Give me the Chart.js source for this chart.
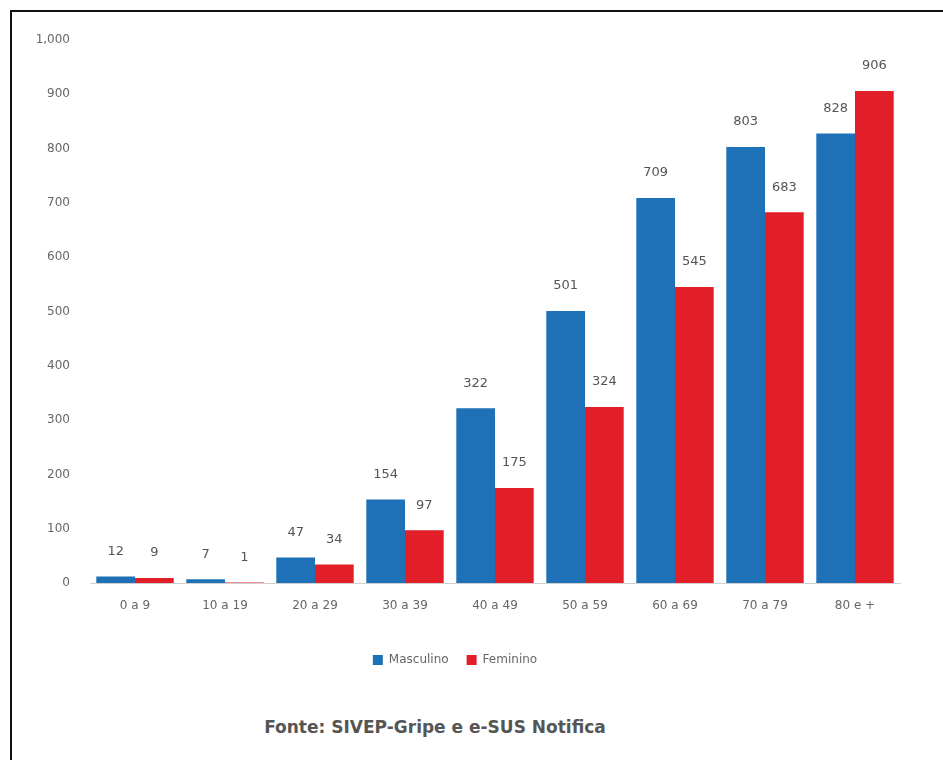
<!DOCTYPE html>
<html>
<head>
<meta charset="utf-8">
<script src="https://cdn.jsdelivr.net/npm/chart.js@4/dist/chart.umd.min.js"></script>
<style>
  body { margin: 0; background: #fff; }
  #frame { position: absolute; left: 10px; top: 10px; width: 1000px; height: 800px;
           border-left: 2px solid #111; border-top: 2px solid #111; }
  #wrap { position: absolute; left: 0; top: 0; width: 943px; height: 700px; }
  #fonte { position: absolute; left: 0; width: 870px; top: 717px; text-align: center;
           font-family: "DejaVu Sans", sans-serif; font-weight: bold; font-size: 17px; color: #555; }
</style>
</head>
<body>
<div id="frame"></div>
<div id="wrap"><canvas id="chart"></canvas></div>
<div id="fonte">Fonte: SIVEP-Gripe e e-SUS Notifica</div>
<script>
const faixas = ['0 a 9', '10 a 19', '20 a 29', '30 a 39', '40 a 49', '50 a 59', '60 a 69', '70 a 79', '80 e +'];
const masculino = [12, 7, 47, 154, 322, 501, 709, 803, 828];
const feminino = [9, 1, 34, 97, 175, 324, 545, 683, 906];
const colorPalette = ['rgba(30, 113, 182, 1)', 'rgba(226, 30, 40, 1)'];

// numbers above each bar
const valueLabels = {
    id: 'valueLabels',
    afterDatasetsDraw(chart) {
        const ctx = chart.ctx;
        ctx.save();
        ctx.font = '13px "DejaVu Sans", sans-serif';
        ctx.fillStyle = '#555';
        ctx.textAlign = 'center';
        ctx.textBaseline = 'middle';
        chart.data.datasets.forEach(function (ds, i) {
            chart.getDatasetMeta(i).data.forEach(function (bar, j) {
                ctx.fillText(ds.data[j], bar.x, bar.y - 25);
            });
        });
        ctx.restore();
    }
};

Chart.defaults.font.family = '"DejaVu Sans", sans-serif';
Chart.defaults.font.size = 12;
Chart.defaults.color = '#666';

const ctx = document.getElementById('chart');
new Chart(ctx, {
    type: 'bar',
    data: {
        labels: faixas,
        datasets: [
            {label: 'Masculino', data: masculino, backgroundColor: colorPalette[0]},
            {label: 'Feminino', data: feminino, backgroundColor: colorPalette[1]}
        ]
    },
    options: {
        responsive: true,
        maintainAspectRatio: false,
        animation: false,
        datasets: {bar: {categoryPercentage: 0.86, barPercentage: 1}},
        layout: {padding: {top: 40, left: 10, right: 43, bottom: 24}},
        plugins: {
            legend: {
                position: 'bottom',
                labels: {boxWidth: 10, boxHeight: 10, padding: 18, font: {size: 12}}
            },
            tooltip: {enabled: false}
        },
        scales: {
            x: {
                grid: {display: false},
                border: {display: true, color: '#d0d0d0'},
                ticks: {padding: 8},
                afterFit: function (s) { s.height = 53; }
            },
            y: {
                min: 0, max: 1000,
                grid: {display: false, drawTicks: false},
                border: {display: false},
                ticks: {stepSize: 100, padding: 20},
                afterFit: function (s) { s.width = 80; }
            }
        }
    },
    plugins: [valueLabels]
});
</script>
</body>
</html>
